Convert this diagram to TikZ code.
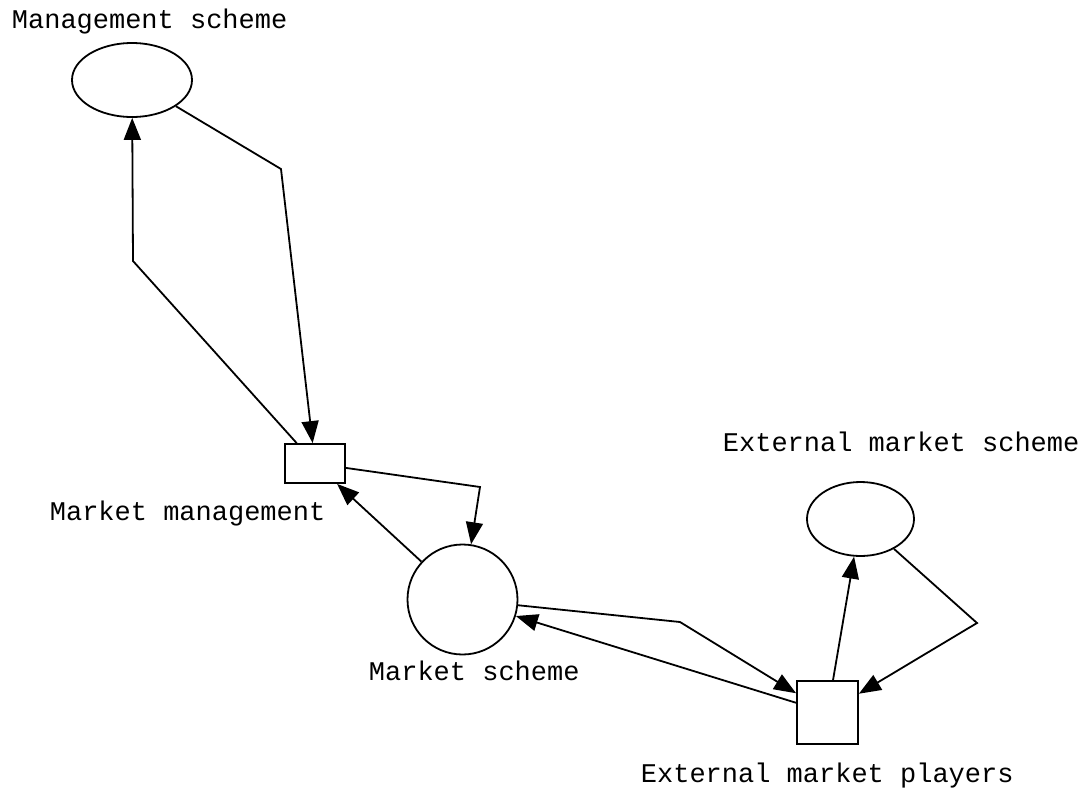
\documentclass[tikz,border=0pt]{standalone}
\usepackage{fontspec}
\newfontfamily\monofont{Liberation Mono}
\usetikzlibrary{arrows.meta,shapes.geometric}

\begin{document}
\begin{tikzpicture}[x=0.5pt,y=-0.5pt,line width=0.9pt,
	>={Triangle[length=11pt,width=8.5pt]},
	place/.style={draw,ellipse,inner sep=0pt},
	trans/.style={draw,rectangle,inner sep=0pt},
	lbl/.style={anchor=base west,inner sep=0pt,
		font=\monofont\fontsize{13.5pt}{16pt}\selectfont}]
\useasboundingbox (0,0) rectangle (1084,788);

%========================================
% Places (schemes)
%========================================
\node[place,minimum width=60pt,minimum height=37pt] (ms) at (132,80) {};
\node[lbl] (mslbl) at (11,28) {Management scheme};

\node[draw,circle,inner sep=0pt,minimum size=55pt] (mk) at (462.5,599.5) {};
\node[lbl] (mklbl) at (368,680) {Market scheme};

\node[place,minimum width=53.5pt,minimum height=37pt] (ems) at (860.5,519) {};
\node[lbl] (emslbl) at (722,451) {External market scheme};

%========================================
% Transitions (actors)
%========================================
\node[trans,minimum width=30pt,minimum height=19.5pt] (mm) at (315,463.5) {};
\node[lbl] (mmlbl) at (49,520) {Market management};

\node[trans,minimum width=30.5pt,minimum height=31.5pt] (emp) at (827.5,712.5) {};
\node[lbl] (emplbl) at (640,782) {External market players};

%========================================
% Bend points
%========================================
\coordinate (b1) at (133,261);
\coordinate (b2) at (281,169);
\coordinate (b3) at (480,487);
\coordinate (b5) at (680,622);
\coordinate (b8) at (977,623);

%========================================
% Arcs
%========================================
\draw[->] (mm) -- (b1) -- (ms);
\draw[->] (ms) -- (b2) -- (mm);
\draw[->] (mm) -- (b3) -- (mk);
\draw[->] (mk) -- (mm);
\draw[->] (mk) -- (b5) -- (emp);
\draw[->] (emp) -- (mk);
\draw[->] (emp) -- (ems);
\draw[->] (ems) -- (b8) -- (emp);
\end{tikzpicture}
\end{document}
